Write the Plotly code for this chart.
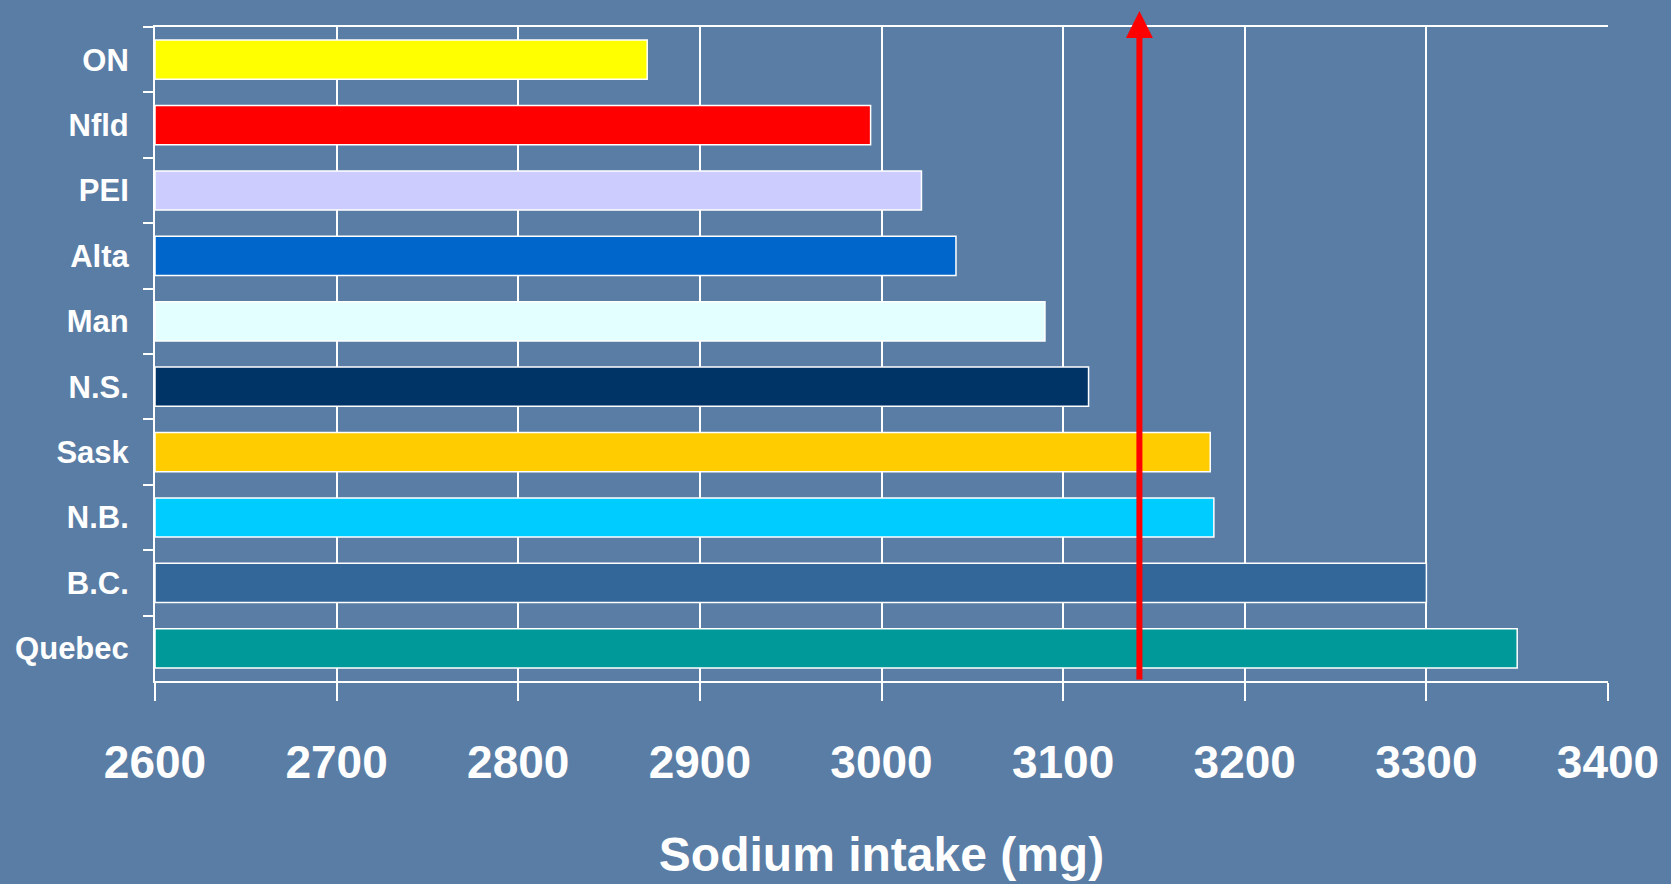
import plotly.graph_objects as go

# Average daily sodium intake by province (mg)
provinces = ["ON", "Nfld", "PEI", "Alta", "Man", "N.S.", "Sask", "N.B.", "B.C.", "Quebec"]
sodium_mg = [2871, 2994, 3022, 3041, 3090, 3114, 3181, 3183, 3300, 3350]
bar_colors = ["#FFFF00", "#FF0000", "#CCCCFF", "#0066CC", "#E3FFFF",
              "#003366", "#FFCC00", "#00CCFF", "#336699", "#009999"]
national_avg_mg = 3142
x_ticks = [2600, 2700, 2800, 2900, 3000, 3100, 3200, 3300, 3400]
x_min, x_max = 2600, 3400

BG = "#5A7DA5"
FONT = "Liberation Sans, Arial, sans-serif"

fig = go.Figure()
# bars start at the axis minimum
fig.add_trace(go.Bar(
    x=[v - x_min for v in sodium_mg],
    base=x_min,
    y=provinces,
    orientation="h",
    marker=dict(color=bar_colors, line=dict(color="white", width=1.5)),
    customdata=sodium_mg,
    hovertemplate="%{y}: %{customdata} mg<extra></extra>",
))

# national average marker: a red arrow rising from the axis
fig.add_annotation(
    x=national_avg_mg, y=1.0245, xref="x", yref="paper",
    ax=0, ay=670, axref="pixel", ayref="pixel",
    showarrow=True, arrowhead=2, arrowsize=0.9, arrowwidth=6,
    arrowcolor="#FF0000", text="",
)

fig.update_layout(
    width=1671, height=884,
    paper_bgcolor=BG, plot_bgcolor=BG,
    margin=dict(l=155, r=59, t=27, b=203),
    bargap=0.4,
    showlegend=False,
    font=dict(family=FONT, color="white"),
)
fig.update_xaxes(
    range=[x_min, x_max],
    tickvals=x_ticks,
    ticktext=[str(v) for v in x_ticks],
    tickfont=dict(size=46, family=FONT, color="white", weight="bold"),
    showgrid=True, gridcolor="white", gridwidth=2,
    showline=True, linecolor="white", linewidth=2, mirror=True,
    ticks="outside", ticklen=18, tickwidth=2, tickcolor="white",
    ticklabelstandoff=22,
    zeroline=False,
    title=dict(text="Sodium intake (mg)",
               font=dict(size=48, family=FONT, color="white", weight="bold"),
               standoff=50),
)
fig.update_yaxes(
    categoryorder="array", categoryarray=provinces, autorange="reversed",
    tickfont=dict(size=31, family=FONT, color="white", weight="bold"),
    showgrid=False,
    showline=True, linecolor="white", linewidth=2,
    ticks="outside", tickson="boundaries", ticklen=10, tickwidth=2, tickcolor="white",
    ticklabelstandoff=18,
)

fig.write_html("out.html")
